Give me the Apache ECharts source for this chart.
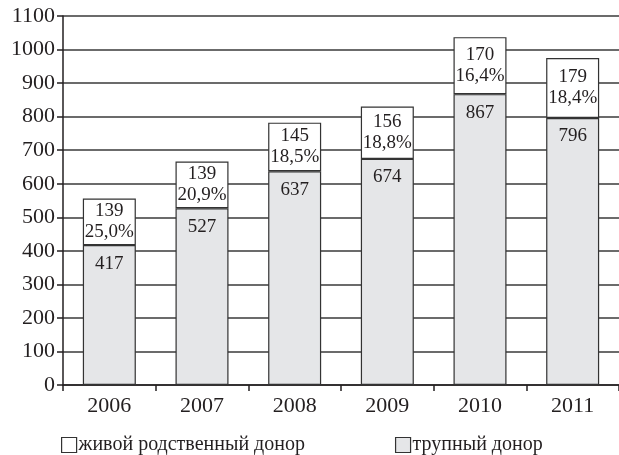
<!DOCTYPE html>
<html>
<head>
<meta charset="utf-8">
<script src="https://cdn.jsdelivr.net/npm/echarts@6/dist/echarts.min.js"></script>
<style>html,body{margin:0;padding:0;background:#fff}#c{width:619px;height:455px}</style>
</head>
<body>
<div id="c"></div>
<script>
const years = ['2006','2007','2008','2009','2010','2011'];
const cadaver = [417, 527, 637, 674, 867, 796];
const living = [139, 139, 145, 156, 170, 179];
const livingPct = ['25,0%', '20,9%', '18,5%', '18,8%', '16,4%', '18,4%'];
const seriesNames = ['живой родственный донор', 'трупный донор'];

const FONT = '"Liberation Serif", "DejaVu Serif", serif';
const INK = '#231f20';
const chart = echarts.init(document.getElementById('c'));
chart.setOption({
  animation: false,
  backgroundColor: '#fff',
  textStyle: { fontFamily: FONT, color: INK },
  grid: { left: 63, right: 0, top: 16, bottom: 70, containLabel: false },
  legend: {
    data: seriesNames,
    left: 56, top: 430,
    icon: 'rect', itemWidth: 15, itemHeight: 15, itemGap: 90,
    itemStyle: { borderColor: '#333', borderWidth: 1.2 },
    textStyle: { fontFamily: FONT, fontSize: 20, color: INK, padding: [0, 0, 0, -3] }
  },
  xAxis: {
    type: 'category', data: years,
    axisLine: { lineStyle: { color: INK, width: 1.5 } },
    axisTick: { show: true, length: 6, lineStyle: { color: INK, width: 1.5 } },
    axisLabel: { fontFamily: FONT, fontSize: 22, color: INK, margin: 10 }
  },
  yAxis: {
    type: 'value', min: 0, max: 1100, interval: 100,
    axisLine: { show: true, lineStyle: { color: INK, width: 1.5 } },
    axisTick: { show: true, length: 6, lineStyle: { color: INK, width: 1.5 } },
    axisLabel: { fontFamily: FONT, fontSize: 22, color: INK, margin: 8, formatter: v => String(v) },
    splitLine: { show: true, lineStyle: { color: '#3a3a3a', width: 1.5 } }
  },
  series: [
    {
      name: seriesNames[1], type: 'bar', stack: 't', barWidth: 53,
      data: cadaver,
      itemStyle: { color: '#e5e6e8', borderColor: '#333', borderWidth: 1.2 },
      label: { show: true, position: 'insideTop', distance: 9, fontFamily: FONT, fontSize: 19, color: INK }
    },
    {
      name: seriesNames[0], type: 'bar', stack: 't', barWidth: 53,
      data: living,
      itemStyle: { color: '#ffffff', borderColor: '#333', borderWidth: 1.2 },
      label: {
        show: true, position: 'inside', fontFamily: FONT, fontSize: 19, color: INK, lineHeight: 21,
        formatter: p => p.value + '\n' + livingPct[p.dataIndex]
      }
    }
  ]
});
</script>
</body>
</html>
